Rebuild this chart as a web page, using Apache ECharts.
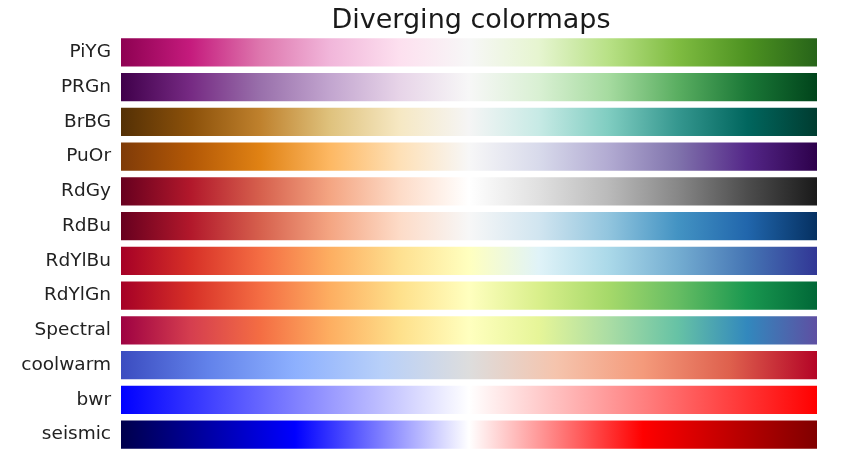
<!DOCTYPE html>
<html>
<head>
<meta charset="utf-8">
<script src="https://cdn.jsdelivr.net/npm/echarts@6/dist/echarts.min.js"></script>
<style>
html,body{margin:0;padding:0;background:#fff;}
#chart{width:860px;height:467px;}
</style>
</head>
<body>
<div id="chart"></div>
<script>
const title = 'Diverging colormaps';
const categories = ['PiYG','PRGn','BrBG','PuOr','RdGy','RdBu','RdYlBu','RdYlGn','Spectral','coolwarm','bwr','seismic'];
const PiYG = ['#8e0152','#c51b7d','#de77ae','#f1b6da','#fde0ef','#f7f7f7','#e6f5d0','#b8e186','#7fbc41','#4d9221','#276419'];
const PRGn = ['#40004b','#762a83','#9970ab','#c2a5cf','#e7d4e8','#f7f7f7','#d9f0d3','#a6dba0','#5aae61','#1b7837','#00441b'];
const BrBG = ['#543005','#8c510a','#bf812d','#dfc27d','#f6e8c3','#f5f5f5','#c7eae5','#80cdc1','#35978f','#01665e','#003c30'];
const PuOr = ['#7f3b08','#b35806','#e08214','#fdb863','#fee0b6','#f7f7f7','#d8daeb','#b2abd2','#8073ac','#542788','#2d004b'];
const RdGy = ['#67001f','#b2182b','#d6604d','#f4a582','#fddbc7','#ffffff','#e0e0e0','#bababa','#878787','#4d4d4d','#1a1a1a'];
const RdBu = ['#67001f','#b2182b','#d6604d','#f4a582','#fddbc7','#f7f7f7','#d1e5f0','#92c5de','#4393c3','#2166ac','#053061'];
const RdYlBu = ['#a50026','#d73027','#f46d43','#fdae61','#fee090','#ffffbf','#e0f3f8','#abd9e9','#74add1','#4575b4','#313695'];
const RdYlGn = ['#a50026','#d73027','#f46d43','#fdae61','#fee08b','#ffffbf','#d9ef8b','#a6d96a','#66bd63','#1a9850','#006837'];
const Spectral = ['#9e0142','#d53e4f','#f46d43','#fdae61','#fee08b','#ffffbf','#e6f598','#abdda4','#66c2a5','#3288bd','#5e4fa2'];
const coolwarm = ['#3b4cc0','#6282ea','#8db0fe','#b8d0f9','#dddddd','#f5c4ad','#f49a7b','#de604d','#b40426'];
const bwr = ['#0000ff','#ffffff','#ff0000'];
const seismic = ['#00004c','#0000ff','#ffffff','#ff0000','#800000'];
const colormaps = [PiYG,PRGn,BrBG,PuOr,RdGy,RdBu,RdYlBu,RdYlGn,Spectral,coolwarm,bwr,seismic];
const barValue = 1;

function gradient(colors){
  const stops = colors.map((c,i)=>({offset: i/(colors.length-1), color: c}));
  return new echarts.graphic.LinearGradient(0,0,1,0,stops);
}

const chart = echarts.init(document.getElementById('chart'));
chart.setOption({
  animation:false,
  backgroundColor:'#ffffff',
  title:{
    text:title, left:466, textAlign:'center', top:2,
    textStyle:{fontFamily:'DejaVu Sans', fontSize:27, fontWeight:'normal', color:'#1a1a1a'}
  },
  grid:{left:121, right:43, top:35, bottom:15},
  xAxis:{type:'value', min:0, max:1, show:false},
  yAxis:{
    type:'category', data:categories, inverse:true,
    axisLine:{show:false}, axisTick:{show:false}, splitLine:{show:false},
    axisLabel:{fontFamily:'DejaVu Sans', fontSize:18.5, color:'#222222', margin:10}
  },
  series:[{
    type:'bar',
    barCategoryGap:'18%',
    data: colormaps.map(cm=>({value:barValue, itemStyle:{color:gradient(cm)}}))
  }]
});
</script>
</body>
</html>
